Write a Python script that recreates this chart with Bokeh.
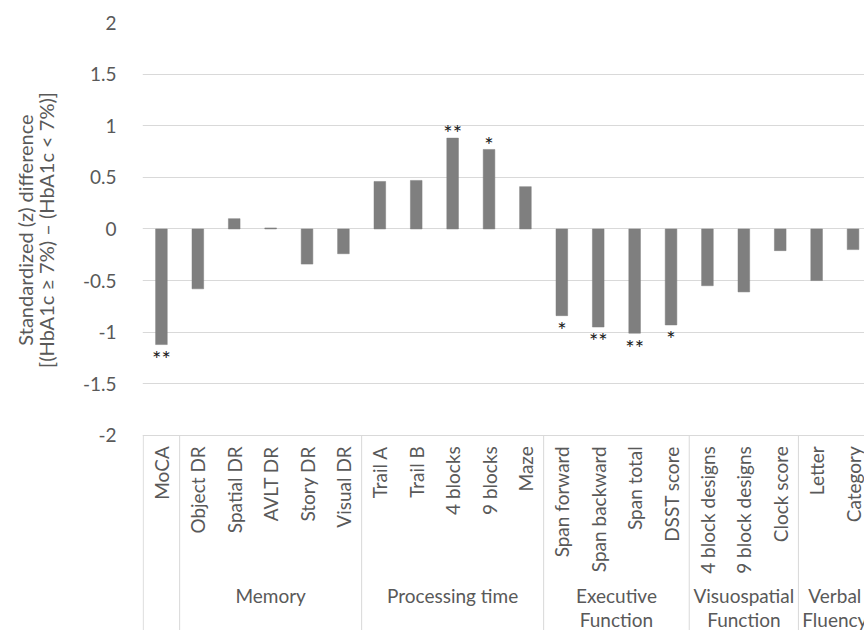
import numpy as np
from bokeh.plotting import figure
from bokeh.layouts import row
from bokeh.models import ColumnDataSource, Range1d, FixedTicker, CustomJSTickFormatter
from bokeh.core.properties import value
from bokeh.embed import file_html
from bokeh.resources import INLINE

# ---------------- data ----------------
categories = ["MoCA", "Object DR", "Spatial DR", "AVLT DR", "Story DR", "Visual DR",
              "Trail A", "Trail B", "4 blocks", "9 blocks", "Maze",
              "Span forward", "Span backward", "Span total", "DSST score",
              "4 block designs", "9 block designs", "Clock score",
              "Letter", "Category"]
values = [-1.12, -0.58, 0.10, 0.01, -0.34, -0.24,
          0.46, 0.47, 0.88, 0.77, 0.41,
          -0.84, -0.95, -1.01, -0.93,
          -0.55, -0.61, -0.21,
          -0.50, -0.20]
significance = ["**", "", "", "", "", "",
                "", "", "**", "*", "",
                "*", "**", "**", "*",
                "", "", "",
                "", ""]
group_names = ["", "Memory", "Processing time", "Executive\nFunction",
               "Visuospatial\nFunction", "Verbal\nFluency"]
group_sizes = [1, 5, 5, 4, 3, 2]
y_ticks = [-2, -1.5, -1, -0.5, 0, 0.5, 1, 1.5, 2]
y_title = ["Standardized (z) difference", "[(HbA1c \u2265 7%) \u2013 (HbA1c < 7%)]"]

# ---------------- style ----------------
FONT = "Lato"
TEXT = "#595959"
GRID = "#d9d9d9"
BAR = "#7f7f7f"
Y_BOTTOM = -3.89        # frame extends into the category-label area
LABEL_ROW_Y = -2.105    # top of rotated category labels
GROUP_ROW_Y = -3.44     # top of group labels
STAR_UP = 0.05
STAR_DOWN = 0.135
TITLE_W = 60
H = 630

n = len(categories)
xc = np.arange(n) + 0.5

# ---------- y-axis title panel ----------
tf = figure(width=TITLE_W, height=H, x_range=Range1d(0, TITLE_W), y_range=Range1d(0, H),
            output_backend="svg", toolbar_location=None,
            x_axis_location=None, y_axis_location=None, min_border=0)
tf.outline_line_color = None
tf.grid.visible = False
tf.text(x=[24, 45], y=[H - 215, H - 215], text=y_title, angle=np.pi / 2,
        text_align="center", text_baseline="middle", text_font=value(FONT),
        text_font_size="20px", text_color=TEXT)

# ---------- main chart ----------
p = figure(width=864 - TITLE_W, height=H,
           x_range=Range1d(-0.02, 19.815), y_range=Range1d(Y_BOTTOM, 2.0),
           output_backend="svg", toolbar_location=None, x_axis_location=None,
           min_border_left=142 - TITLE_W, min_border_right=0,
           min_border_top=22, min_border_bottom=0)
p.outline_line_color = None
p.xgrid.visible = False
p.ygrid.ticker = FixedTicker(ticks=y_ticks)
p.ygrid.grid_line_color = GRID
p.ygrid.grid_line_width = 1

ax = p.yaxis[0]
ax.ticker = FixedTicker(ticks=y_ticks)
ax.formatter = CustomJSTickFormatter(code="return tick.toString();")
ax.axis_line_color = None
ax.major_tick_line_color = None
ax.minor_tick_line_color = None
ax.major_label_standoff = 20
ax.major_label_text_font = FONT
ax.major_label_text_font_size = "19px"
ax.major_label_text_color = TEXT

# bars
src = ColumnDataSource(dict(x=xc, top=values, bottom=[0] * n))
p.vbar(x="x", top="top", bottom="bottom", width=0.32, source=src,
       fill_color=BAR, line_color=BAR, line_width=0.5)

# significance markers
vals = np.array(values)
star_y = np.where(vals >= 0, vals + STAR_UP, vals - STAR_DOWN)
star_src = ColumnDataSource(dict(x=xc, y=star_y, t=significance))
p.text(x="x", y="y", text="t", source=star_src, text_align="center",
       text_baseline="middle", text_font=value(FONT), text_font_size="22px",
       text_color="#1a1a1a")

# category labels (rotated)
cat_src = ColumnDataSource(dict(x=xc, y=[LABEL_ROW_Y] * n, t=categories))
p.text(x="x", y="y", text="t", source=cat_src, angle=np.pi / 2,
       text_align="right", text_baseline="middle", text_font=value(FONT),
       text_font_size="19px", text_color=TEXT)

# group separators and labels
bounds = np.cumsum([0] + group_sizes)
starts = bounds[:-1]
centers = starts + np.array(group_sizes) / 2.0
p.segment(x0=starts, y0=[-2] * len(starts), x1=starts, y1=[Y_BOTTOM] * len(starts),
          line_color=GRID, line_width=1)
grp_src = ColumnDataSource(dict(x=centers, y=[GROUP_ROW_Y] * len(centers), t=group_names))
p.text(x="x", y="y", text="t", source=grp_src, text_align="center",
       text_baseline="top", text_font=value(FONT), text_font_size="19px",
       text_color=TEXT, text_line_height=1.05)

layout = row(tf, p)
open("out.html", "w").write(file_html(layout, INLINE))
